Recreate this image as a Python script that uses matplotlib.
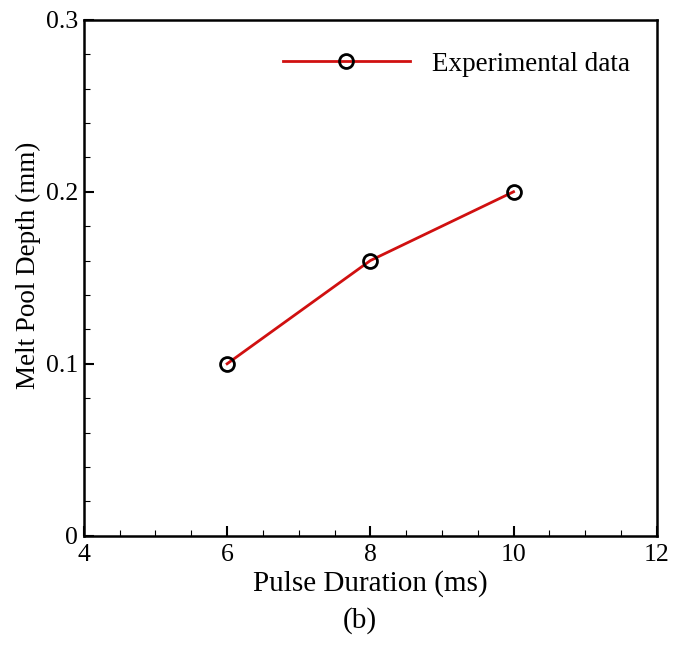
import matplotlib
matplotlib.use("Agg")
import matplotlib.pyplot as plt
from matplotlib.ticker import MultipleLocator

plt.rcParams['font.family'] = ['Liberation Serif', 'DejaVu Serif']
plt.rcParams['mathtext.fontset'] = 'stix'

pulse_duration = [6, 8, 10]
melt_pool_depth = [0.10, 0.16, 0.20]
xticks = [4, 6, 8, 10, 12]
yticks = [0, 0.1, 0.2, 0.3]
ytick_labels = ["0", "0.1", "0.2", "0.3"]

fig = plt.figure(figsize=(6.82, 6.59), dpi=100)
ax = fig.add_axes([0.123, 0.187, 0.840, 0.783])

ax.plot(pulse_duration, melt_pool_depth, color='#d01010', lw=2.0,
        marker='o', markersize=10, markerfacecolor='none',
        markeredgecolor='black', markeredgewidth=2.0,
        label='Experimental data')

ax.set_xlim(4, 12)
ax.set_ylim(0, 0.3)
ax.set_xticks(xticks)
ax.set_xticklabels([str(t) for t in xticks])
ax.set_yticks(yticks)
ax.set_yticklabels(ytick_labels)
ax.xaxis.set_minor_locator(MultipleLocator(0.5))
ax.yaxis.set_minor_locator(MultipleLocator(0.02))
ax.tick_params(which='major', direction='in', length=7, width=1.5,
               labelsize=18.5, top=False, right=False, pad=4)
ax.tick_params(axis='x', which='major', pad=6)
ax.tick_params(which='minor', direction='in', length=4, width=0.8,
               top=False, right=False)
for s in ax.spines.values():
    s.set_linewidth(1.8)

ax.set_xlabel('Pulse Duration (ms)', fontsize=21, labelpad=3)
ax.set_ylabel('Melt Pool Depth (mm)', fontsize=19.5)
ax.yaxis.set_label_coords(-0.074, 0.525)

leg = ax.legend(loc='upper right', bbox_to_anchor=(0.995, 0.985),
                frameon=False, fontsize=19.5, handlelength=4.7,
                handletextpad=0.8)

fig.text(0.527, 0.058, '(b)', fontsize=21, ha='center', va='center')

fig.savefig('out.png', dpi=100)
